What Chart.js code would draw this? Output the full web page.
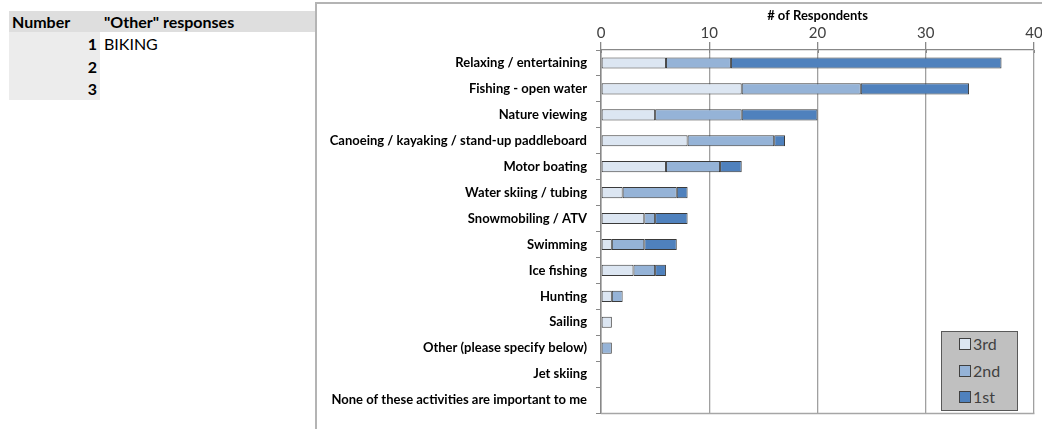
<!DOCTYPE html>
<html>
<head>
<meta charset="utf-8">
<script src="https://cdn.jsdelivr.net/npm/chart.js@4.4.1/dist/chart.umd.min.js"></script>
<style>
  html, body { margin: 0; padding: 0; background: #fff; width: 1042px; height: 429px; overflow: hidden; font-family: Lato, "Liberation Sans", sans-serif; }
  #tbl { position: absolute; left: 9px; top: 11px; }
  .hdr { position: absolute; top: 0; height: 21px; background: #dedede; }
  .cell { position: absolute; font-weight: bold; font-size: 16px; color: #000; line-height: 21px; white-space: nowrap; }
  .numcell { position: absolute; left: 0; width: 91px; background: #ececec; }
  #frame { position: absolute; left: 315px; top: 2px; width: 800px; height: 500px; border-left: 2px solid #b4b4b4; border-top: 2px solid #b4b4b4; }
  #wrap { position: absolute; left: 317px; top: 0; width: 725px; height: 429px; }
  #legend { position: absolute; left: 941px; top: 331px; width: 75px; height: 78px; background: #c0c0c0; border: 1px solid #595959; }
  .li { position: absolute; left: 17px; height: 20px; font-size: 16px; color: #404040; line-height: 20px; white-space: nowrap; }
  .sw { position: absolute; left: 0; top: 4px; width: 10px; height: 10px; border: 1px solid #404040; }
  .lt { position: absolute; left: 14px; top: 0; }
</style>
</head>
<body>
<div id="tbl"></div>
<div id="frame"></div>
<div id="wrap"><canvas id="c" width="725" height="429"></canvas></div>
<div id="legend"></div>
<script>
const categories = [
  'Relaxing / entertaining',
  'Fishing - open water',
  'Nature viewing',
  'Canoeing / kayaking / stand-up paddleboard',
  'Motor boating',
  'Water skiing / tubing',
  'Snowmobiling / ATV',
  'Swimming',
  'Ice fishing',
  'Hunting',
  'Sailing',
  'Other (please specify below)',
  'Jet skiing',
  'None of these activities are important to me'
];
const third  = [6, 13, 5, 8, 6, 2, 4, 1, 3, 1, 1, 0, 0, 0];
const second = [6, 11, 8, 8, 5, 5, 1, 3, 2, 1, 0, 1, 0, 0];
const first  = [25, 10, 7, 1, 2, 1, 3, 3, 1, 0, 0, 0, 0, 0];
const seriesNames = ['3rd', '2nd', '1st'];
const xTicks = [0, 10, 20, 30, 40];
const otherNumbers = [1, 2, 3];
const otherResponses = ['BIKING', '', ''];

const colors = ['#dce6f2', '#95b3d7', '#4f81bd'];

// Left table
const tbl = document.getElementById('tbl');
let h = '<div class="hdr" style="left:0;width:307px"></div>';
h += '<div class="cell" style="left:3px;top:0">Number</div>';
h += '<div class="cell" style="left:95px;top:0">"Other" responses</div>';
otherNumbers.forEach((n, i) => {
  const top = 21 + i * 22.7;
  h += '<div class="numcell" style="top:' + top + 'px;height:23px"></div>';
  h += '<div class="cell" style="left:0;width:88px;text-align:right;top:' + (top + 1) + 'px">' + n + '</div>';
  h += '<div class="cell" style="left:95px;font-weight:normal;top:' + (top + 1) + 'px">' + otherResponses[i] + '</div>';
});
tbl.innerHTML = h;

const values = [third, second, first];
const datasets = seriesNames.map((name, i) => ({
  label: name,
  data: values[i],
  backgroundColor: colors[i],
  borderColor: '#3a3a3a',
  borderWidth: 1,
  borderSkipped: false,
  barPercentage: 0.43,
  categoryPercentage: 1.0
}));

const frameLines = {
  id: 'frameLines',
  beforeDatasetsDraw(chart) {
    const a = chart.chartArea, ctx = chart.ctx;
    ctx.save();
    ctx.strokeStyle = '#a6a6a6';
    ctx.lineWidth = 1.5;
    ctx.beginPath();
    ctx.moveTo(a.left, a.bottom + 0.5);
    ctx.lineTo(a.right + 0.5, a.bottom + 0.5);
    ctx.stroke();
    const xs = chart.scales.x;
    ctx.strokeStyle = '#888';
    ctx.lineWidth = 1;
    xTicks.forEach(v => {
      const px = Math.round(xs.getPixelForValue(v)) + 0.5;
      ctx.beginPath();
      ctx.moveTo(px, a.top);
      ctx.lineTo(px, a.top + 3);
      ctx.stroke();
    });
    ctx.restore();
  }
};

const chart = new Chart(document.getElementById('c'), {
  type: 'bar',
  data: { labels: categories, datasets },
  options: {
    indexAxis: 'y',
    responsive: false,
    animation: false,
    layout: { padding: { top: 4, right: 8, bottom: 16, left: 0 } },
    plugins: { legend: { display: false }, tooltip: { enabled: false } },
    scales: {
      x: {
        position: 'top',
        stacked: true,
        min: 0,
        max: 40,
        afterBuildTicks(scale) { scale.ticks = xTicks.map(v => ({ value: v })); },
        ticks: { color: '#404040', font: { family: 'Lato', size: 15 }, padding: 0 },
        grid: { color: '#a0a0a0', lineWidth: 1.3, tickLength: 8, tickColor: '#888' },
        border: { color: '#888', width: 1.3 },
        title: { display: true, text: '# of Respondents', color: '#000', font: { family: 'Lato', size: 13, weight: 'bold' }, padding: { top: 4, bottom: 0 } },
        afterFit(scale) { scale.height = 46; scale.paddingLeft = 0; scale.paddingRight = 0; }
      },
      y: {
        stacked: true,
        ticks: { color: '#000', font: { family: 'Lato', size: 13, weight: 'bold' }, padding: 9, autoSkip: false },
        grid: { drawOnChartArea: false, tickLength: 5, color: '#888', offset: true },
        border: { color: '#888', width: 1.5 },
        afterFit(scale) { scale.width = 284; scale.paddingTop = 0; scale.paddingBottom = 0; }
      }
    }
  },
  plugins: [frameLines]
});

const lg = document.getElementById('legend');
let lh = '';
chart.data.datasets.forEach((ds, i) => {
  lh += '<div class="li" style="top:' + (2 + i * 26.5) + 'px"><div class="sw" style="background:' + ds.backgroundColor + '"></div><div class="lt">' + ds.label + '</div></div>';
});
lg.innerHTML = lh;
</script>
</body>
</html>
